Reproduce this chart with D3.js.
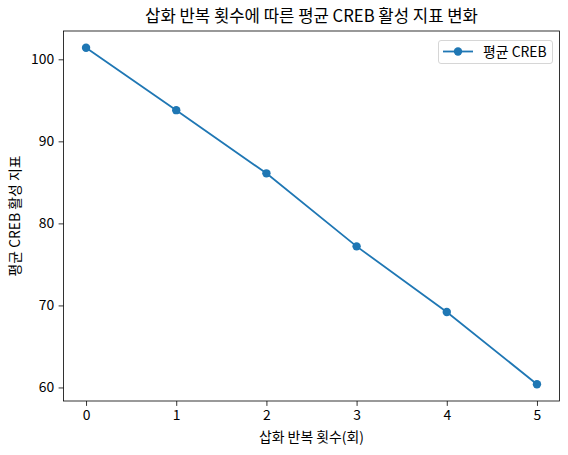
<!DOCTYPE html>
<html>
<head>
<meta charset="utf-8">
<script src="https://cdn.jsdelivr.net/npm/d3@7"></script>
<style>
  body { margin: 0; background: #fff; }
  text { font-family: "Noto Sans CJK KR", "Noto Sans", sans-serif; fill: #000; }
</style>
</head>
<body>
<div id="chart"></div>
<script>
// data
const repeats = [0, 1, 2, 3, 4, 5];
const creb = [101.4, 93.8, 86.1, 77.2, 69.2, 60.4];
const xTicks = [0, 1, 2, 3, 4, 5];
const yTicks = [60, 70, 80, 90, 100];

const width = 568, height = 455;
const margin = {left: 63.5, right: 8.5, top: 31, bottom: 54};
const color = "#1f77b4";

const svg = d3.select("#chart").append("svg")
    .attr("width", width)
    .attr("height", height);

// matplotlib style 5% padding
const xPad = (d3.max(repeats) - d3.min(repeats)) * 0.05;
const yPad = (d3.max(creb) - d3.min(creb)) * 0.05;

const x = d3.scaleLinear()
    .domain([d3.min(repeats) - xPad, d3.max(repeats) + xPad])
    .range([margin.left, width - margin.right]);
const y = d3.scaleLinear()
    .domain([d3.min(creb) - yPad, d3.max(creb) + yPad])
    .range([height - margin.bottom, margin.top]);

const xAxis = svg.append("g")
    .attr("transform", `translate(0,${height - margin.bottom})`)
    .call(d3.axisBottom(x).tickValues(xTicks).tickFormat(d3.format("d")).tickSize(4.9).tickPadding(4.5));
const yAxis = svg.append("g")
    .attr("transform", `translate(${margin.left},0)`)
    .call(d3.axisLeft(y).tickValues(yTicks).tickFormat(d3.format("d")).tickSize(4.9).tickPadding(4.5));

[xAxis, yAxis].forEach(a => {
  a.select(".domain").remove();
  a.selectAll("line").attr("stroke", "#000").attr("stroke-width", 0.8);
  a.selectAll("text").attr("font-size", 13.9).style("font-family", "'Noto Sans CJK KR', sans-serif");
});

// frame
svg.append("rect")
    .attr("x", margin.left)
    .attr("y", margin.top)
    .attr("width", width - margin.left - margin.right)
    .attr("height", height - margin.top - margin.bottom)
    .attr("fill", "none")
    .attr("stroke", "#000")
    .attr("stroke-width", 0.8);

// line + markers
const line = d3.line()
    .x((d, i) => x(repeats[i]))
    .y(d => y(d));

svg.append("path")
    .datum(creb)
    .attr("d", line)
    .attr("fill", "none")
    .attr("stroke", color)
    .attr("stroke-width", 1.8);

svg.append("g").selectAll("circle")
    .data(creb)
    .enter().append("circle")
      .attr("cx", (d, i) => x(repeats[i]))
      .attr("cy", d => y(d))
      .attr("r", 4.2)
      .attr("fill", color);

// title & labels
svg.append("text")
    .attr("x", (margin.left + width - margin.right) / 2)
    .attr("y", 22)
    .attr("text-anchor", "middle")
    .attr("font-size", 16.7)
    .text("삽화 반복 횟수에 따른 평균 CREB 활성 지표 변화");

svg.append("text")
    .attr("x", (margin.left + width - margin.right) / 2)
    .attr("y", 442)
    .attr("text-anchor", "middle")
    .attr("font-size", 13.9)
    .text("삽화 반복 횟수(회)");

svg.append("text")
    .attr("transform", `translate(20,${(margin.top + height - margin.bottom) / 2}) rotate(-90)`)
    .attr("text-anchor", "middle")
    .attr("font-size", 13.9)
    .text("평균 CREB 활성 지표");

// legend
const legend = svg.append("g").attr("transform", "translate(438.5,40.5)");
legend.append("rect")
    .attr("width", 114)
    .attr("height", 23)
    .attr("rx", 2.5)
    .attr("fill", "#fff")
    .attr("fill-opacity", 0.8)
    .attr("stroke", "#cccccc")
    .attr("stroke-width", 0.8);
legend.append("line")
    .attr("x1", 4.5).attr("x2", 34.5)
    .attr("y1", 11).attr("y2", 11)
    .attr("stroke", color)
    .attr("stroke-width", 1.8);
legend.append("circle")
    .attr("cx", 19.5).attr("cy", 11).attr("r", 4.2)
    .attr("fill", color);
legend.append("text")
    .attr("x", 44.5)
    .attr("y", 16)
    .attr("font-size", 13.9)
    .text("평균 CREB");
</script>
</body>
</html>
